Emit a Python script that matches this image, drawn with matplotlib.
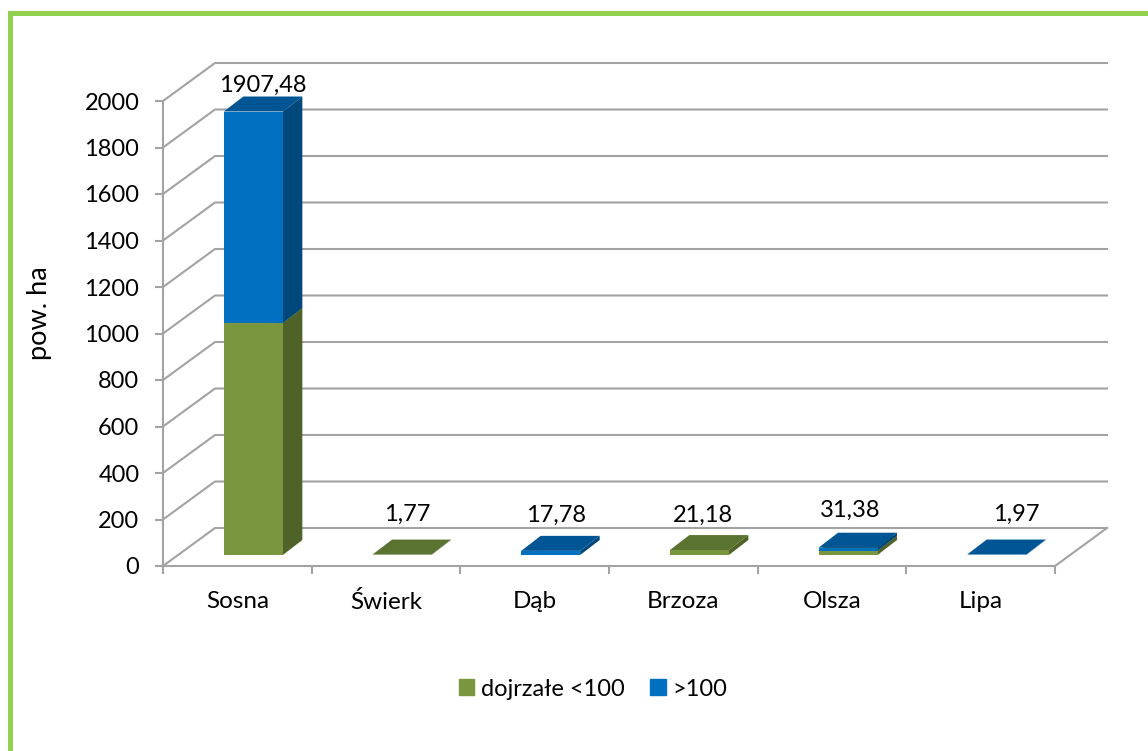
#!/usr/bin/env python
import matplotlib
matplotlib.use('Agg')
import matplotlib.pyplot as plt
from matplotlib.patches import Patch, Polygon, Rectangle

categories = ['Sosna', 'Świerk', 'Dąb', 'Brzoza', 'Olsza', 'Lipa']
mature = [998.0, 1.77, 0.0, 21.18, 18.0, 0.0]
over_100 = [909.48, 0.0, 17.78, 0.0, 13.38, 1.97]
labels = ['1907,48', '1,77', '17,78', '21,18', '31,38', '1,97']
y_ticks = list(range(0, 2001, 200))

GREEN = ('#7A963F', '#4F6228', '#5B7331')  # front, side, top
BLUE = ('#0070C0', '#00477C', '#005594')
GRID = '#A3A3A3'
W, H = 1148, 751

plt.rcParams['font.family'] = ['Lato', 'DejaVu Sans']
plt.rcParams['font.size'] = 17

fig = plt.figure(figsize=(W / 100, H / 100), dpi=100)

# green frame, open at right and bottom
fig.add_artist(Rectangle((8 / W, 0), 5 / W, 1 - 11 / H, transform=fig.transFigure, color='#92D050', lw=0))
fig.add_artist(Rectangle((8 / W, 1 - 16 / H), 1 - 8 / W, 5 / H, transform=fig.transFigure, color='#92D050', lw=0))

''' axes box = front plane + room for the depth '''
x0, x1, y0, y1 = 163, 1108, 566, 63
ax = fig.add_axes([x0 / W, 1 - y0 / H, (x1 - x0) / W, (y0 - y1) / H])
cat_px = 148.67
val_px = 0.2325
ax.set_xlim(0, (x1 - x0) / cat_px)
ax.set_ylim(0, (y0 - y1) / val_px)
ax.patch.set_visible(False)
for s in ax.spines.values():
    s.set_visible(False)

# depth of the chart, data units
dx = 52 / cat_px
dy = 38 / val_px

# walls
for v in y_ticks:
    ax.plot([0, dx, dx + len(categories)], [v, v + dy, v + dy], color=GRID, lw=1.5, clip_on=False, solid_joinstyle='miter')
n = len(categories)
ax.plot([0, 0], [0, 2000], color=GRID, lw=1.5, clip_on=False)
ax.plot([0, n, n + dx], [0, 0, dy], color=GRID, lw=1.5, clip_on=False, solid_joinstyle='miter')

# ticks
ax.set_yticks(y_ticks)
ax.set_xticks(range(n + 1))
ax.set_xticklabels([])
ax.set_xticks([i + 0.5 for i in range(n)], minor=True)
ax.set_xticklabels(categories, minor=True, fontsize=17.5)
ax.tick_params(axis='x', which='major', length=6, width=1.5, color=GRID)
ax.tick_params(axis='x', which='minor', length=0, pad=18)
ax.tick_params(axis='y', length=6, width=1.5, color=GRID, pad=11)
ax.set_ylabel('pow. ha', fontsize=19.5)
ax.yaxis.set_label_coords((52 - x0) / (x1 - x0), (y0 - 313) / (y0 - y1))


def bar3d(xl, w, bottom, height, colors):
    # one box, front face offset into the floor
    off_x = 15 / cat_px
    off_y = 11 / val_px
    dep_x = 19.5 / cat_px
    dep_y = 15 / val_px
    l = xl + off_x
    r = l + w
    b = bottom + off_y
    t = b + height
    ax.add_patch(Polygon([(r, b), (r + dep_x, b + dep_y), (r + dep_x, t + dep_y), (r, t)], fc=colors[1], lw=0, zorder=3))
    ax.add_patch(Polygon([(l, t), (r, t), (r + dep_x, t + dep_y), (l + dep_x, t + dep_y)], fc=colors[2], lw=0, zorder=3))
    ax.add_patch(Rectangle((l, b), w, height, fc=colors[0], lw=0, zorder=3))


bar_w = 59 / cat_px
label_shift = [(10, 26), (6, 40), (6, 36), (5, 35), (3, 37), (21, 40)]  # px, from the front top
for i in range(n):
    xl = i + 0.5 - bar_w / 2 + 1 / cat_px
    if mature[i] > 0:
        bar3d(xl, bar_w, 0, mature[i], GREEN)
    if over_100[i] > 0:
        bar3d(xl, bar_w, mature[i], over_100[i], BLUE)
    total = mature[i] + over_100[i]
    ax.annotate(labels[i], (i + 0.5 + 15 / cat_px, total + 11 / val_px), xytext=label_shift[i],
                textcoords='offset pixels', ha='center', va='center', zorder=5, annotation_clip=False)

leg = fig.legend(handles=[Patch(color=GREEN[0], label='dojrzałe <100'), Patch(color=BLUE[0], label='>100')],
                 loc='center', bbox_to_anchor=(593 / W, 1 - 689 / H), ncol=2, frameon=False,
                 handlelength=0.64, handleheight=0.64, handletextpad=0.3, columnspacing=1.1)

fig.savefig('out.png', dpi=100)
